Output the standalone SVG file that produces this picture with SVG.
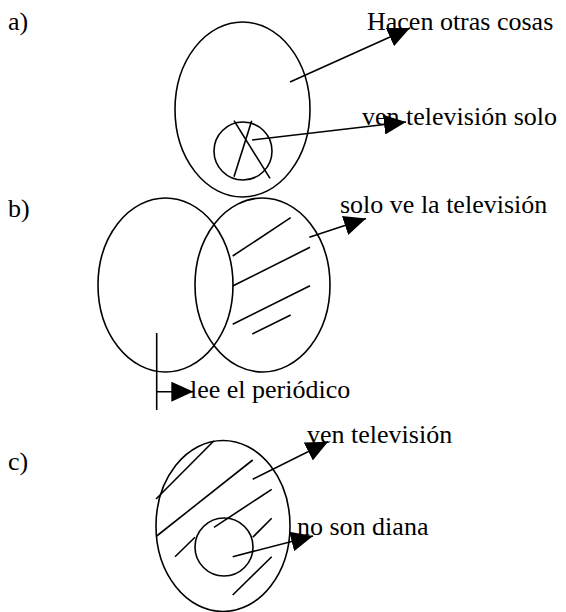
<svg xmlns="http://www.w3.org/2000/svg" width="566" height="612" viewBox="0 0 566 612">
<style>
  .shape { fill: none; stroke: #000; stroke-width: 1.6; }
  .conn { fill: none; stroke: #000; stroke-width: 1.6; marker-end: url(#head); }
  .lbl { font-family: "Liberation Serif", "Times New Roman", "DejaVu Serif", serif; font-size: 26px; fill: #000; }
</style>
<defs>
  <marker id="head" viewBox="0 0 22 20" refX="22" refY="10" markerWidth="22" markerHeight="20" markerUnits="userSpaceOnUse" orient="auto">
    <path d="M0,0 L22,10 L0,20 z" fill="#000"/>
  </marker>
</defs>
<rect width="566" height="612" fill="#fff"/>

<g id="panel-a">
  <text class="lbl" x="8" y="30">a)</text>
  <g id="a-outer"><ellipse class="shape" cx="242.5" cy="109.5" rx="67.5" ry="87.5"/></g>
  <g id="a-inner">
    <circle class="shape" cx="243" cy="151" r="29"/>
    <line class="shape" x1="234" y1="120.7" x2="270" y2="178.3"/>
    <line class="shape" x1="251.7" y1="120.7" x2="234" y2="176.7"/>
  </g>
  <g id="a-label1"><text class="lbl" x="367" y="30">Hacen otras cosas</text></g>
  <g id="a-label2"><text class="lbl" x="362" y="125">ven televisión solo</text></g>
</g>

<g id="panel-b">
  <text class="lbl" x="8" y="217">b)</text>
  <g id="b-left"><ellipse class="shape" cx="165.5" cy="285" rx="67.5" ry="87"/></g>
  <g id="b-right">
    <ellipse class="shape" cx="262.5" cy="285" rx="67.5" ry="87"/>
    <line class="shape" x1="232.7" y1="256" x2="290.7" y2="217.7"/>
    <line class="shape" x1="232.7" y1="286" x2="310" y2="247.3"/>
    <line class="shape" x1="232.7" y1="324.3" x2="310" y2="285.7"/>
    <line class="shape" x1="252.3" y1="334" x2="290.7" y2="315"/>
  </g>
  <g id="b-label1"><text class="lbl" x="340" y="213">solo ve la televisión</text></g>
  <g id="b-label2"><text class="lbl" x="190" y="398">lee el periódico</text></g>
</g>

<g id="panel-c">
  <text class="lbl" x="8" y="470">c)</text>
  <g id="c-outer">
    <ellipse class="shape" cx="223" cy="526" rx="67" ry="85.5"/>
    <line class="shape" x1="156" y1="499" x2="214" y2="440.7"/>
    <line class="shape" x1="156.7" y1="536" x2="252.7" y2="460"/>
    <line class="shape" x1="214" y1="527.3" x2="271.7" y2="489.3"/>
    <line class="shape" x1="175" y1="556.7" x2="195" y2="537.3"/>
    <line class="shape" x1="252.7" y1="537.3" x2="271.7" y2="518.3"/>
    <line class="shape" x1="232.7" y1="595" x2="271.7" y2="556.7"/>
  </g>
  <g id="c-inner"><circle class="shape" cx="224" cy="547" r="29"/></g>
  <g id="c-label1"><text class="lbl" x="307" y="443">ven televisión</text></g>
  <g id="c-label2"><text class="lbl" x="297" y="535">no son diana</text></g>
</g>

<g id="connectors">
  <line class="conn" x1="290" y1="82" x2="410" y2="28"/>
  <line class="conn" x1="252" y1="140" x2="406" y2="122"/>
  <line class="conn" x1="309.3" y1="237.3" x2="366" y2="218.5"/>
  <line class="shape" x1="156.7" y1="333" x2="156.7" y2="410"/>
  <line class="conn" x1="156.7" y1="391.7" x2="193.3" y2="391.7"/>
  <line class="conn" x1="252.7" y1="479.3" x2="328" y2="441.7"/>
  <line class="conn" x1="232.7" y1="556.7" x2="313" y2="536"/>
</g>
</svg>
